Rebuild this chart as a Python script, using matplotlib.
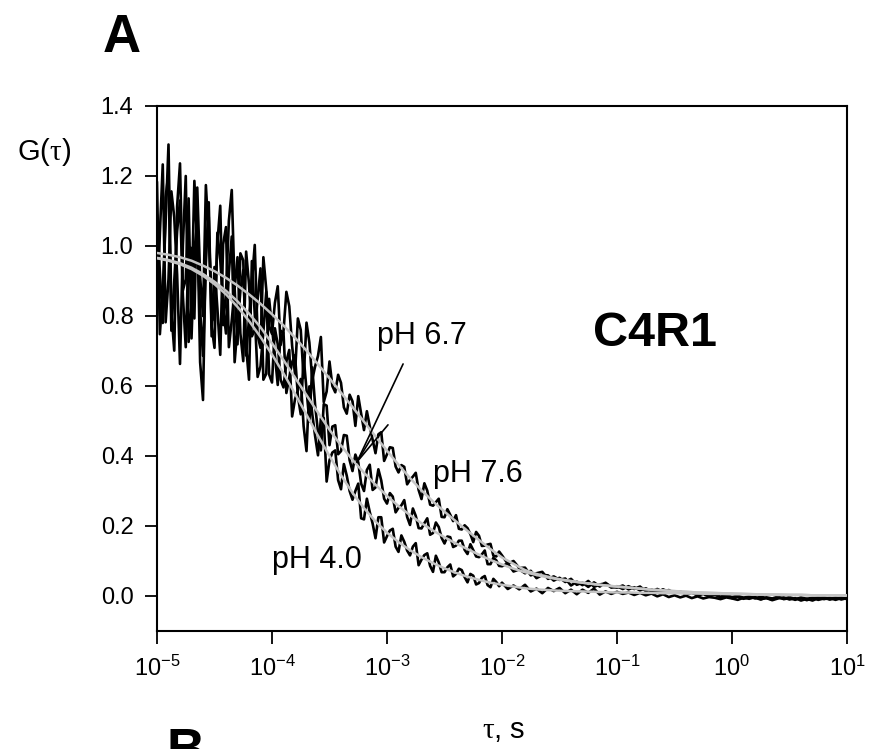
import numpy as np
import matplotlib
matplotlib.use("Agg")
import matplotlib.pyplot as plt
from matplotlib.ticker import FixedLocator, NullLocator, LogFormatterSciNotation

plt.rcParams['font.family'] = ['Liberation Sans', 'DejaVu Sans']
plt.rcParams['mathtext.fontset'] = 'custom'
plt.rcParams['mathtext.rm'] = 'Liberation Sans'
plt.rcParams['mathtext.it'] = 'Liberation Serif'
plt.rcParams['mathtext.bf'] = 'Liberation Sans:bold'
plt.rcParams['axes.unicode_minus'] = False

# lag times (log10 tau): measured curves 40/decade up to 1e-2, 20/decade after; fits 10/decade
log_tau_data = np.round(np.concatenate([np.linspace(-5.0, -2.025, 120),
                                        np.linspace(-2.0, 1.0, 61)]), 3)
log_tau_fit = np.round(np.linspace(-5.0, 1.0, 61), 2)

g_ph76 = [1.088, 0.925, 0.780, 1.139, 1.209, 0.758, 0.900, 1.042, 1.130, 0.858,
          0.711, 0.997, 0.994, 0.793, 1.167, 0.912, 0.800, 1.174, 1.026, 0.842,
          0.788, 1.008, 1.115, 0.774, 0.867, 1.072, 1.160, 0.879, 0.719, 0.979,
          0.959, 0.687, 0.792, 0.898, 1.003, 0.744, 0.709, 0.968, 0.876, 0.771,
          0.749, 0.837, 0.885, 0.717, 0.757, 0.869, 0.828, 0.715, 0.634, 0.793,
          0.760, 0.623, 0.781, 0.724, 0.618, 0.656, 0.686, 0.740, 0.554, 0.584,
          0.670, 0.600, 0.582, 0.632, 0.609, 0.539, 0.521, 0.575, 0.556, 0.486,
          0.571, 0.521, 0.474, 0.528, 0.485, 0.447, 0.408, 0.462, 0.468, 0.386,
          0.405, 0.425, 0.423, 0.370, 0.353, 0.374, 0.369, 0.319, 0.332, 0.341,
          0.352, 0.303, 0.277, 0.322, 0.301, 0.261, 0.258, 0.268, 0.278, 0.226,
          0.225, 0.248, 0.232, 0.214, 0.231, 0.192, 0.190, 0.202, 0.194, 0.177,
          0.154, 0.183, 0.172, 0.143, 0.144, 0.147, 0.149, 0.115, 0.113, 0.127,
          0.116, 0.092, 0.100, 0.080, 0.081, 0.059, 0.065, 0.069, 0.049, 0.056,
          0.046, 0.050, 0.030, 0.041, 0.031, 0.043, 0.026, 0.033, 0.036, 0.024,
          0.028, 0.020, 0.028, 0.020, 0.027, 0.014, 0.019, 0.011, 0.019, 0.012,
          0.010, 0.012, 0.006, 0.009, 0.003, 0.007, 0.002, 0.004, -0.002, 0.003,
          -0.003, 0.001, -0.005, -0.001, -0.007, -0.002, -0.006, -0.010, -0.004, -0.008,
          -0.003, -0.009, -0.005, -0.012, -0.006, -0.004, -0.009, -0.005, -0.011, -0.006, -0.008]

g_ph67 = [0.804, 1.037, 1.233, 0.782, 0.906, 1.156, 1.082, 0.918, 0.663, 1.002,
          1.200, 0.726, 0.830, 1.186, 1.001, 0.817, 0.686, 0.951, 1.125, 0.742,
          0.940, 0.822, 0.689, 1.005, 1.054, 0.711, 0.787, 0.878, 0.968, 0.750,
          0.671, 0.984, 0.891, 0.742, 0.760, 0.848, 0.936, 0.618, 0.635, 0.849,
          0.766, 0.689, 0.603, 0.758, 0.752, 0.580, 0.624, 0.668, 0.688, 0.572,
          0.519, 0.683, 0.590, 0.498, 0.653, 0.545, 0.468, 0.416, 0.548, 0.544,
          0.431, 0.484, 0.488, 0.405, 0.414, 0.460, 0.458, 0.388, 0.357, 0.404,
          0.382, 0.321, 0.300, 0.360, 0.375, 0.303, 0.310, 0.362, 0.330, 0.278,
          0.264, 0.294, 0.284, 0.239, 0.252, 0.259, 0.274, 0.226, 0.203, 0.250,
          0.229, 0.194, 0.193, 0.208, 0.222, 0.175, 0.180, 0.210, 0.197, 0.166,
          0.150, 0.170, 0.168, 0.140, 0.144, 0.158, 0.158, 0.132, 0.120, 0.148,
          0.131, 0.113, 0.111, 0.119, 0.130, 0.091, 0.091, 0.109, 0.102, 0.086,
          0.085, 0.093, 0.070, 0.076, 0.065, 0.072, 0.051, 0.060, 0.059, 0.044,
          0.052, 0.040, 0.049, 0.032, 0.038, 0.026, 0.039, 0.027, 0.038, 0.026,
          0.024, 0.030, 0.019, 0.025, 0.016, 0.022, 0.013, 0.020, 0.012, 0.017,
          0.008, 0.013, 0.005, 0.010, 0.002, 0.006, -0.001, 0.005, -0.004, 0.001,
          -0.006, -0.002, -0.008, -0.003, -0.005, -0.010, -0.004, -0.007, -0.002, -0.009,
          -0.006, -0.011, -0.004, -0.008, -0.013, -0.006, -0.003, -0.010, -0.007, -0.004, -0.009]

g_ph40 = [1.181, 0.748, 0.872, 1.068, 1.290, 0.812, 0.701, 1.113, 1.236, 0.873,
          0.905, 1.136, 0.736, 0.984, 1.069, 0.668, 0.560, 0.999, 1.083, 0.771,
          0.709, 1.038, 0.961, 0.828, 0.750, 0.924, 1.027, 0.668, 0.770, 0.872,
          0.932, 0.712, 0.618, 0.957, 0.805, 0.626, 0.656, 0.756, 0.869, 0.633,
          0.610, 0.765, 0.719, 0.618, 0.596, 0.670, 0.703, 0.513, 0.562, 0.587,
          0.620, 0.485, 0.414, 0.599, 0.520, 0.457, 0.402, 0.508, 0.509, 0.327,
          0.388, 0.410, 0.416, 0.331, 0.305, 0.377, 0.344, 0.300, 0.275, 0.300,
          0.321, 0.222, 0.219, 0.278, 0.240, 0.207, 0.165, 0.225, 0.225, 0.153,
          0.171, 0.187, 0.192, 0.141, 0.126, 0.173, 0.155, 0.130, 0.116, 0.141,
          0.151, 0.088, 0.104, 0.117, 0.122, 0.086, 0.069, 0.115, 0.096, 0.068,
          0.068, 0.082, 0.090, 0.056, 0.063, 0.078, 0.074, 0.054, 0.039, 0.063,
          0.058, 0.033, 0.037, 0.052, 0.057, 0.031, 0.025, 0.049, 0.040, 0.028,
          0.038, 0.020, 0.030, 0.019, 0.032, 0.013, 0.021, 0.008, 0.023, 0.014,
          0.023, 0.008, 0.018, 0.005, 0.018, 0.009, 0.021, 0.004, 0.013, 0.006,
          0.012, 0.006, 0.010, 0.003, 0.009, 0.002, 0.007, -0.001, 0.005, -0.003,
          0.002, -0.004, 0.001, -0.006, -0.001, -0.007, -0.003, -0.005, -0.009, -0.004,
          -0.007, -0.011, -0.005, -0.008, -0.003, -0.009, -0.006, -0.012, -0.007, -0.004,
          -0.010, -0.006, -0.013, -0.008, -0.005, -0.011, -0.007, -0.009, -0.004, -0.010, -0.006]

# fitted curves (grey)
fit_ph76 = [0.980, 0.975, 0.968, 0.958, 0.944, 0.928, 0.909, 0.887, 0.862, 0.835,
            0.805, 0.773, 0.738, 0.701, 0.662, 0.622, 0.581, 0.540, 0.498, 0.456,
            0.415, 0.375, 0.337, 0.302, 0.270, 0.241, 0.213, 0.186, 0.160, 0.134,
            0.110, 0.092, 0.074, 0.063, 0.055, 0.048, 0.043, 0.038, 0.034, 0.030,
            0.027, 0.024, 0.021, 0.018, 0.016, 0.014, 0.012, 0.010, 0.009, 0.008,
            0.007, 0.006, 0.005, 0.004, 0.004, 0.003, 0.003, 0.002, 0.002, 0.002, 0.002]

fit_ph67 = [0.966, 0.960, 0.951, 0.938, 0.920, 0.898, 0.872, 0.842, 0.807, 0.768,
            0.722, 0.674, 0.624, 0.574, 0.524, 0.475, 0.430, 0.389, 0.352, 0.318,
            0.286, 0.257, 0.231, 0.208, 0.187, 0.168, 0.150, 0.134, 0.118, 0.103,
            0.090, 0.078, 0.068, 0.060, 0.053, 0.047, 0.042, 0.038, 0.034, 0.030,
            0.027, 0.024, 0.021, 0.018, 0.016, 0.014, 0.012, 0.010, 0.009, 0.008,
            0.007, 0.006, 0.005, 0.004, 0.004, 0.003, 0.003, 0.002, 0.002, 0.002, 0.002]

fit_ph40 = [0.965, 0.958, 0.948, 0.934, 0.915, 0.891, 0.862, 0.826, 0.786, 0.740,
            0.690, 0.636, 0.578, 0.518, 0.458, 0.400, 0.345, 0.295, 0.251, 0.213,
            0.181, 0.154, 0.131, 0.111, 0.094, 0.079, 0.066, 0.055, 0.046, 0.038,
            0.032, 0.027, 0.022, 0.019, 0.017, 0.015, 0.014, 0.013, 0.012, 0.011,
            0.010, 0.010, 0.009, 0.009, 0.008, 0.008, 0.007, 0.007, 0.006, 0.006,
            0.005, 0.005, 0.004, 0.004, 0.003, 0.003, 0.003, 0.002, 0.002, 0.002, 0.002]

y_ticks = [0.0, 0.2, 0.4, 0.6, 0.8, 1.0, 1.2, 1.4]
x_ticks = [1e-5, 1e-4, 1e-3, 1e-2, 1e-1, 1e0, 1e1]

W, H = 871, 749
fig = plt.figure(figsize=(W / 100, H / 100), dpi=100)
ax = fig.add_axes([157 / W, 1 - 631 / H, 690 / W, 525 / H])

tau_d = 10.0 ** log_tau_data
tau_f = 10.0 ** log_tau_fit
for g in (g_ph76, g_ph67, g_ph40):
    ax.plot(tau_d, g, color='black', lw=1.9, zorder=2)
for f in (fit_ph76, fit_ph67, fit_ph40):
    ax.plot(tau_f, f, color='#c4c4c4', lw=1.8, zorder=3)

ax.set_xscale('log')
ax.set_xlim(1e-5, 1e1)
ax.set_ylim(-0.1, 1.4)
ax.xaxis.set_major_locator(FixedLocator(x_ticks))
ax.xaxis.set_major_formatter(LogFormatterSciNotation())
ax.xaxis.set_minor_locator(NullLocator())
ax.set_yticks(y_ticks)
ax.set_yticklabels(['%.1f' % v for v in y_ticks])
ax.tick_params(direction='out', length=9, width=1.3, labelsize=17,
               top=False, right=False, colors='black')
ax.tick_params(axis='y', pad=8)
ax.tick_params(axis='x', pad=9)
for s in ax.spines.values():
    s.set_linewidth(1.5)

# arrow lines from the pH 6.7 label
apex = (5.48e-4, 0.383)
for end in [(1.38e-3, 0.663), (1.02e-3, 0.489), (7.4e-4, 0.454)]:
    ax.annotate('', xy=apex, xytext=end,
                arrowprops=dict(arrowstyle='-', lw=1.2, color='black',
                                shrinkA=0, shrinkB=0))

ax.text(8.19e-4, 0.72, 'pH 6.7', fontsize=22, ha='left', va='baseline')
ax.text(2.51e-3, 0.327, 'pH 7.6', fontsize=22, ha='left', va='baseline')
ax.text(1.0e-4, 0.08, 'pH 4.0', fontsize=22, ha='left', va='baseline')
ax.text(0.214, 0.751, 'C4R1', fontsize=35, weight='bold', ha='center', va='center')

fig.text(103 / W, 1 - 52 / H, 'A', fontsize=38, weight='bold', ha='left', va='baseline')
fig.text(166 / W, 1 - 766 / H, 'B', fontsize=38, weight='bold', ha='left', va='baseline')
fig.text(44 / W, 1 - 152 / H, r'G($\tau$)', fontsize=21, ha='center', va='center')
fig.text(504 / W, 1 - 738 / H, r'$\tau$, s', fontsize=21, ha='center', va='baseline')

fig.savefig('out.png', dpi=100)
